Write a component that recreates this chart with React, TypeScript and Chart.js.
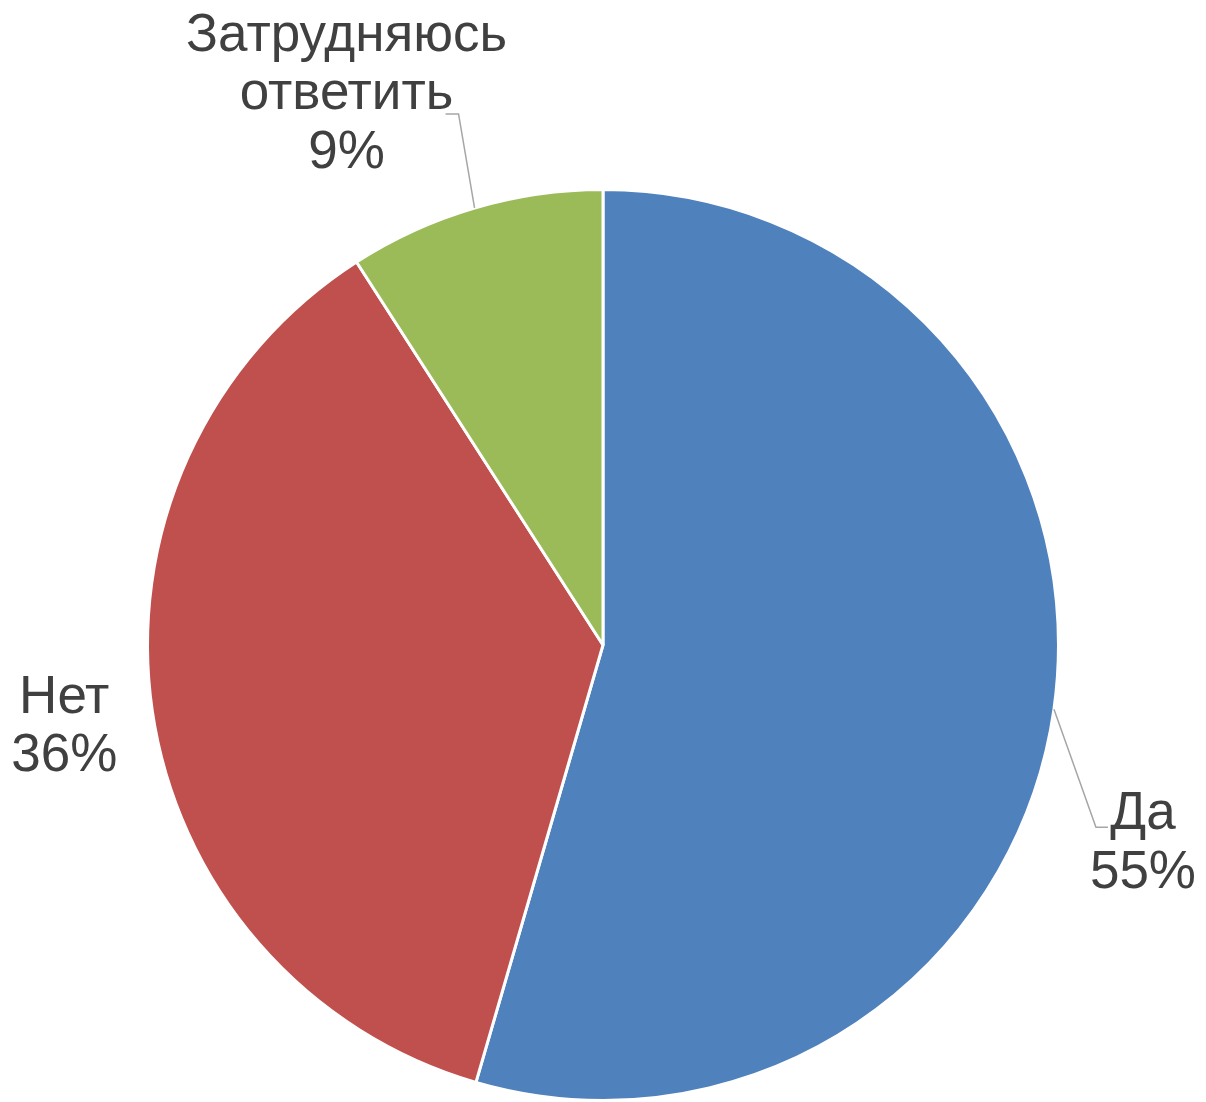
import React, { useEffect, useRef } from "react";
import { Chart, registerables } from "chart.js";

Chart.register(...registerables);

const categories = ["Да", "Нет", "Затрудняюсь ответить"];
const values = [54.5, 36.4, 9.1];
const percentLabels = ["55%", "36%", "9%"];
const labelLines = [["Да", "55%"], ["Нет", "36%"], ["Затрудняюсь", "ответить", "9%"]];
const colors = ["#4F81BD", "#C0504D", "#9BBB59"];

// label placement relative to the slice's mid-angle point on the rim (style only)
const labelPlacement = [
  { dx: 89, dy: 120, leader: [[42, 118], [54, 118]] },
  { dx: -88, dy: 2, leader: null },
  { dx: -128, dy: -157, leader: [[-16, -94], [-29, -94]] },
];

const LINE_H = 58.5;
const FONT = '53px "Liberation Sans", Arial, sans-serif';

const labelPlugin = {
  id: "outerLabels",
  afterDraw(chart: any) {
    const ctx = chart.ctx;
    const meta = chart.getDatasetMeta(0);
    meta.data.forEach((arc: any, i: number) => {
      const p = arc.getProps(["x", "y", "startAngle", "endAngle", "outerRadius"], true);
      const mid = (p.startAngle + p.endAngle) / 2;
      const ax = p.x + Math.cos(mid) * p.outerRadius;
      const ay = p.y + Math.sin(mid) * p.outerRadius;
      const pl = labelPlacement[i];
      ctx.save();
      if (pl.leader) {
        ctx.strokeStyle = "#A6A6A6";
        ctx.lineWidth = 1.5;
        ctx.beginPath();
        ctx.moveTo(ax, ay);
        pl.leader.forEach((pt: number[]) => ctx.lineTo(ax + pt[0], ay + pt[1]));
        ctx.stroke();
      }
      ctx.fillStyle = "#404040";
      ctx.font = FONT;
      ctx.textAlign = "center";
      ctx.textBaseline = "alphabetic";
      labelLines[i].forEach((line, k) => {
        ctx.fillText(line, ax + pl.dx, ay + pl.dy + k * LINE_H);
      });
      ctx.restore();
    });
  },
};

export default function App() {
  const ref = useRef<HTMLCanvasElement>(null);
  useEffect(() => {
    if (!ref.current) return;
    const chart = new Chart(ref.current, {
      type: "pie",
      data: {
        labels: categories,
        datasets: [
          {
            data: values,
            backgroundColor: colors,
            borderColor: "#FFFFFF",
            borderWidth: 3,
          },
        ],
      },
      options: {
        responsive: false,
        animation: false,
        devicePixelRatio: 1,
        layout: { padding: { top: 188, bottom: 0, left: 145, right: 145 } },
        plugins: {
          legend: { display: false },
          tooltip: { enabled: false },
        },
      },
      plugins: [labelPlugin],
    });
    return () => chart.destroy();
  }, []);
  return (
    <div style={{ position: "absolute", left: 0, top: 0, width: 1206, height: 1102, background: "#fff" }}>
      <canvas ref={ref} width={1206} height={1102} />
    </div>
  );
}
